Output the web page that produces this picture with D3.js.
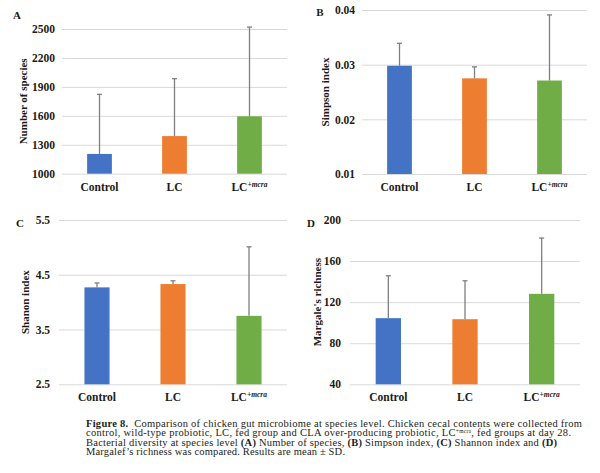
<!DOCTYPE html>
<html><head><meta charset="utf-8">
<script src="https://cdn.jsdelivr.net/npm/d3@7/dist/d3.min.js"></script>
<style>
body{margin:0;background:#fff;}
svg{display:block;}
.tick text{font-family:"Liberation Serif","Times New Roman",serif;font-weight:bold;font-size:11.5px;fill:#1a1a1a;}
</style></head>
<body>
<svg id="fig" width="600" height="473"></svg>
<script>
// ---- data ----
const categories = ["Control", "LC", "LC+mcra"];
const colors = ["#4472C4", "#ED7D31", "#70AD47"];

const speciesMean = [1205, 1390, 1595];
const speciesSD   = [618, 595, 925];
const speciesTicks = [1000, 1300, 1600, 1900, 2200, 2500];

const simpsonMean = [0.0298, 0.0275, 0.0271];
const simpsonSD   = [0.0041, 0.0021, 0.0120];
const simpsonTicks = [0.01, 0.02, 0.03, 0.04];

const shannonMean = [4.27, 4.33, 3.75];
const shannonSD   = [0.08, 0.06, 1.26];
const shannonTicks = [2.5, 3.5, 4.5, 5.5];

const margalefMean = [104.4, 103.4, 128.1];
const margalefSD   = [41.3, 37.4, 54.3];
const margalefTicks = [40, 80, 120, 160, 200];

const captionLines = [
  "Comparison of chicken gut microbiome at species level. Chicken cecal contents were collected from",
  "control, wild-type probiotic, LC, fed group and CLA over-producing probiotic, LC",
  "Bacterial diversity at species level (A) Number of species, (B) Simpson index, (C) Shannon index and (D)",
  "Margalef\u2019s richness was compared. Results are mean \u00b1 SD."
];

// ---- layout ----
const panels = [
  {letter:"A", title:"Number of species", mean:speciesMean, sd:speciesSD, ticks:speciesTicks, fmt:d3.format("d"),
   x0:62, x1:287, yTop:29, yBot:173.7, tickRight:55, titleX:23, letterX:17, letterY:19, catY:191},
  {letter:"B", title:"Simpson index", mean:simpsonMean, sd:simpsonSD, ticks:simpsonTicks, fmt:d3.format(".2f"),
   x0:362, x1:587, yTop:10, yBot:174, tickRight:355, titleX:325, letterX:320, letterY:16, catY:191},
  {letter:"C", title:"Shanon index", mean:shannonMean, sd:shannonSD, ticks:shannonTicks, fmt:d3.format(".1f"),
   x0:59, x1:287, yTop:220, yBot:384.3, tickRight:50, titleX:25, letterX:20, letterY:227, catY:401}, 
  {letter:"D", title:"Margale's richness", mean:margalefMean, sd:margalefSD, ticks:margalefTicks, fmt:d3.format("d"),
   x0:350, x1:580, yTop:220, yBot:384.3, tickRight:341, titleX:317, letterX:311, letterY:227, catY:401}
];

const svg = d3.select("#fig");
const serif = "'Liberation Serif','Times New Roman',serif";

panels.forEach(p => {
  const g = svg.append("g");
  const x = d3.scaleBand().domain(categories).range([p.x0, p.x1]).paddingInner(0.67).paddingOuter(0.335);
  const y = d3.scaleLinear().domain([p.ticks[0], p.ticks[p.ticks.length-1]]).range([p.yBot, p.yTop]);

  // gridlines + tick labels
  const ax = g.append("g").attr("transform", `translate(${p.x0},0)`)
    .call(d3.axisLeft(y).tickValues(p.ticks).tickFormat(p.fmt).tickSize(-(p.x1 - p.x0)).tickPadding(p.x0 - p.tickRight));
  ax.select(".domain").remove();
  ax.selectAll(".tick line").attr("stroke", "#d9d9d9").attr("stroke-width", 1);

  // bars
  g.selectAll("rect.bar").data(categories).enter().append("rect")
    .attr("class", "bar")
    .attr("x", d => x(d))
    .attr("width", x.bandwidth())
    .attr("y", (d, i) => y(p.mean[i]))
    .attr("height", (d, i) => y(p.ticks[0]) - y(p.mean[i]))
    .attr("fill", (d, i) => colors[i]);

  // error bars (plus direction)
  const eb = g.selectAll("g.err").data(categories).enter().append("g").attr("class", "err");
  eb.append("line")
    .attr("x1", d => x(d) + x.bandwidth()/2).attr("x2", d => x(d) + x.bandwidth()/2)
    .attr("y1", (d, i) => y(p.mean[i])).attr("y2", (d, i) => y(p.mean[i] + p.sd[i]))
    .attr("stroke", "#7f7f7f").attr("stroke-width", 1.3);
  eb.append("line")
    .attr("x1", d => x(d) + x.bandwidth()/2 - 2.5).attr("x2", d => x(d) + x.bandwidth()/2 + 2.5)
    .attr("y1", (d, i) => y(p.mean[i] + p.sd[i])).attr("y2", (d, i) => y(p.mean[i] + p.sd[i]))
    .attr("stroke", "#7f7f7f").attr("stroke-width", 1.3);

  // category labels
  const cl = g.selectAll("text.cat").data(categories).enter().append("text")
    .attr("class", "cat")
    .attr("x", d => x(d) + x.bandwidth()/2)
    .attr("y", p.catY)
    .attr("text-anchor", "middle")
    .style("font-family", serif).style("font-weight", "bold").style("font-size", "11.5px").style("fill", "#1a1a1a");
  cl.each(function(d) {
    const t = d3.select(this);
    if (d.includes("+")) {
      const [base, sup] = d.split("+");
      t.append("tspan").text(base);
      t.append("tspan").attr("dy", -4).style("font-size", "7.5px").style("font-style", "italic").text("+" + sup);
    } else t.text(d);
  });

  // y title
  g.append("text")
    .attr("transform", `translate(${p.titleX},${(p.yTop + p.yBot)/2}) rotate(-90)`)
    .attr("text-anchor", "middle").attr("dy", "0.35em")
    .style("font-family", serif).style("font-weight", "bold").style("font-size", "11px").style("fill", "#1a1a1a")
    .text(p.title);

  // panel letter
  g.append("text")
    .attr("x", p.letterX).attr("y", p.letterY).attr("text-anchor", "middle")
    .style("font-family", serif).style("font-weight", "bold").style("font-size", "11px").style("fill", "#1a1a1a")
    .text(p.letter);
});

// ---- caption ----
const cap = svg.append("g").style("font-family", serif).style("font-size", "10.5px").style("fill", "#222");
const capX = 86, capY0 = 426.5, capDy = 9.6;
const l1 = cap.append("text").attr("x", capX).attr("y", capY0);
l1.append("tspan").style("font-weight", "bold").text("Figure 8.");
l1.append("tspan").text("\u00a0\u00a0" + captionLines[0]);
const l2 = cap.append("text").attr("x", capX).attr("y", capY0 + capDy);
l2.append("tspan").text(captionLines[1]);
l2.append("tspan").attr("dy", -3).style("font-size", "5.5px").text("+mcra");
l2.append("tspan").attr("dy", 3).text(", fed groups at day 28.");
const l3 = cap.append("text").attr("x", capX).attr("y", capY0 + 2*capDy);
captionLines[2].split(/(\([A-D]\))/).forEach(s => {
  if (!s) return;
  const ts = l3.append("tspan").text(s);
  if (/^\([A-D]\)$/.test(s)) ts.style("font-weight", "bold");
});
cap.append("text").attr("x", capX).attr("y", capY0 + 3*capDy).text(captionLines[3]);

// stretch caption lines to their measured widths
const targetRight = [582, 571, 557, 345];
cap.selectAll("text").each(function(d, i) {
  d3.select(this).attr("textLength", targetRight[i] - capX).attr("lengthAdjust", "spacing");
});
</script>
</body></html>
